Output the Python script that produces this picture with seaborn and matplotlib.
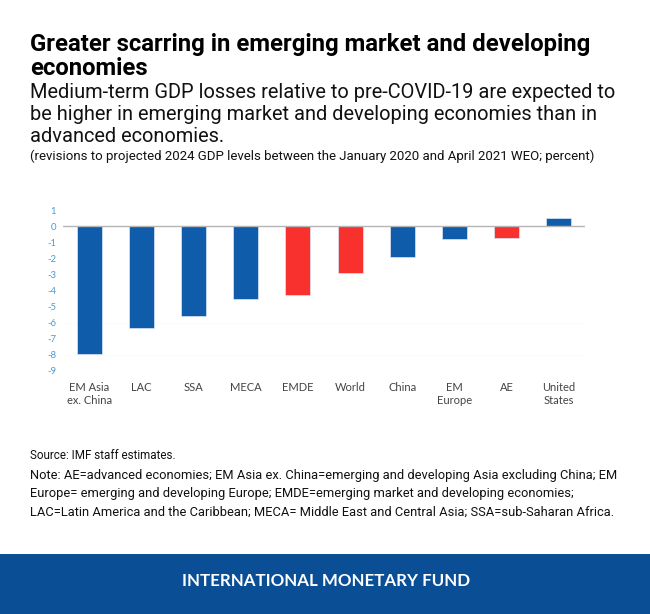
import matplotlib
matplotlib.use("Agg")
import matplotlib.pyplot as plt
import pandas as pd
import seaborn as sns
from matplotlib.patches import Rectangle

categories = ["EM Asia\nex. China", "LAC", "SSA", "MECA", "EMDE", "World", "China", "EM\nEurope", "AE", "United\nStates"]
values = [-7.95, -6.35, -5.62, -4.52, -4.28, -2.9, -1.9, -0.77, -0.75, 0.5]
groups = ["Other", "Other", "Other", "Other", "Aggregate", "Aggregate", "Other", "Other", "Aggregate", "Other"]
y_ticks = [1, 0, -1, -2, -3, -4, -5, -6, -7, -8, -9]
palette = {"Other": "#0f5cab", "Aggregate": "#f9312e"}

title = "Greater scarring in emerging market and developing\neconomies"
subtitle = ("Medium-term GDP losses relative to pre-COVID-19 are expected to\n"
            "be higher in emerging market and developing economies than in\n"
            "advanced economies.")
units = "(revisions to projected 2024 GDP levels between the January 2020 and April 2021 WEO; percent)"
source = "Source: IMF staff estimates."
notes = ["Note: AE=advanced economies; EM Asia ex. China=emerging and developing Asia excluding China; EM",
         "Europe= emerging and developing Europe; EMDE=emerging market and developing economies;",
         "LAC=Latin America and the Caribbean; MECA= Middle East and Central Asia; SSA=sub-Saharan Africa."]
footer = "INTERNATIONAL MONETARY FUND"

W, H = 650, 614
sns.set_theme(style="white")
plt.rcParams["font.family"] = ["Roboto", "DejaVu Sans"]
fig = plt.figure(figsize=(W / 100, H / 100), dpi=100, facecolor="white")
ax = fig.add_axes([63 / W, 1 - 370.6 / H, 522 / W, 160.2 / H])

df = pd.DataFrame({"category": categories, "value": values, "group": groups})
sns.barplot(data=df, x="category", y="value", hue="group", palette=palette, dodge=False,
            saturation=1, width=0.48, legend=False, ax=ax, edgecolor="#dbe6f3", linewidth=0.5, zorder=3)
ax.set_xlim(-0.5, 9.5)
ax.set_ylim(-9, 1)
ax.set_xlabel("")
ax.set_ylabel("")
ax.set_yticks(y_ticks)
ax.set_yticklabels([str(t) for t in y_ticks])
ax.tick_params(axis="y", length=0, pad=5, labelsize=6.8, labelcolor="#4a9bd4")
ax.tick_params(axis="x", length=0, pad=8.3, labelsize=8.0, labelcolor="#444444")
for lab in ax.get_xticklabels() + ax.get_yticklabels():
    lab.set_family("Lato")
for lab in ax.get_xticklabels():
    lab.set_linespacing(1.17)
for s in ax.spines.values():
    s.set_visible(False)
for t in [-6, -8]:
    ax.axhline(t, color="#fbfbfb", lw=0.7, zorder=1)
ax.axhline(0, color="#b5b5b5", lw=1.0, zorder=4)

fig.text(30 / W, 1 - 33 / H, title, fontsize=17.2, fontweight="bold", color="black",
         va="top", ha="left", linespacing=1.06)
fig.text(30 / W, 1 - 83 / H, subtitle, fontsize=14.37, color="#111111",
         va="top", ha="left", linespacing=1.19)
fig.text(30 / W, 1 - 156.5 / H, units, fontsize=9.57, color="#111111", va="center", ha="left")
fig.text(30 / W, 1 - 455.5 / H, source, fontsize=8.35, color="#111111", va="center", ha="left")
for text, y in zip(notes, [475.5, 493.5, 512.5]):
    fig.text(30 / W, 1 - y / H, text, fontsize=9.32, color="#111111", va="center", ha="left")

fig.add_artist(Rectangle((0, 0), 1, 60 / H, transform=fig.transFigure, facecolor="#0a4f96", edgecolor="none"))
fig.text(326 / W, 1 - 581 / H, footer, fontsize=12.15, fontweight="bold", color="white",
         family="Lato", va="center", ha="center")
fig.savefig("out.png", dpi=100)
